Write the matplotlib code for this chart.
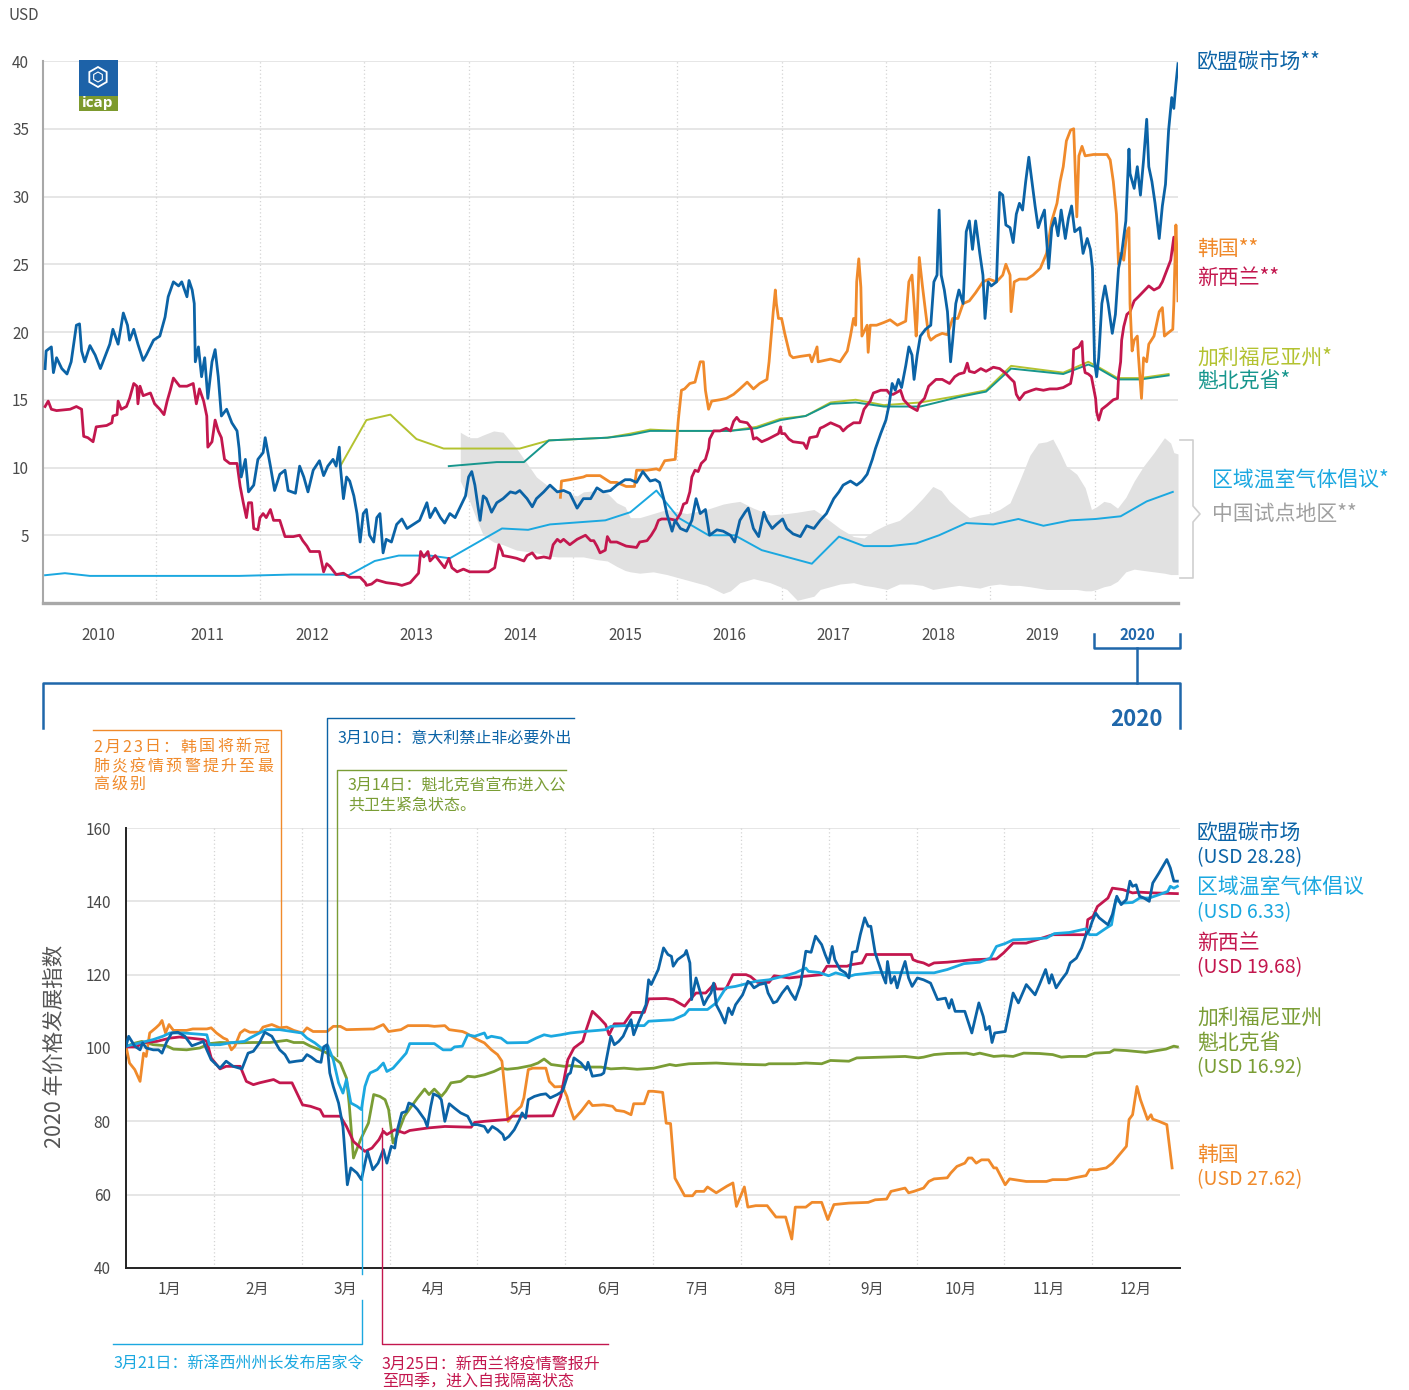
import numpy as np
import matplotlib
matplotlib.use("Agg")
import matplotlib.pyplot as plt
from matplotlib.lines import Line2D
from matplotlib.patches import Rectangle, Polygon

plt.rcParams["font.family"] = ["Noto Sans CJK SC", "DejaVu Sans"]

# ---------------- top panel data (decimal year, USD) ----------------
eu_top = [(2009.94, 17.3), (2009.95, 18.6), (2010.00, 18.9), (2010.02, 17.0), (2010.05, 18.1), (2010.10, 17.3),
          (2010.15, 16.9), (2010.19, 17.8), (2010.24, 20.5), (2010.27, 20.6), (2010.29, 18.6), (2010.32, 17.8),
          (2010.37, 19.0), (2010.42, 18.3), (2010.47, 17.3), (2010.51, 18.1), (2010.56, 19.1), (2010.59, 20.2),
          (2010.64, 19.1), (2010.69, 21.4), (2010.73, 20.5), (2010.75, 19.4), (2010.79, 20.2), (2010.83, 19.1),
          (2010.88, 17.9), (2010.91, 18.3), (2010.98, 19.4), (2011.04, 19.7), (2011.09, 21.1), (2011.12, 22.6),
          (2011.17, 23.7), (2011.22, 23.4), (2011.25, 23.7), (2011.30, 22.6), (2011.32, 23.8), (2011.35, 23.1),
          (2011.37, 22.1), (2011.38, 17.8), (2011.41, 18.9), (2011.44, 16.7), (2011.47, 18.1), (2011.50, 15.1),
          (2011.54, 17.8), (2011.57, 18.7), (2011.60, 16.7), (2011.63, 13.8), (2011.68, 14.3), (2011.73, 13.3),
          (2011.78, 12.7), (2011.80, 11.4), (2011.82, 9.3), (2011.86, 10.6), (2011.89, 8.2), (2011.94, 8.7),
          (2011.98, 10.6), (2012.03, 11.1), (2012.05, 12.2), (2012.10, 10.1), (2012.14, 8.3), (2012.19, 9.5),
          (2012.24, 9.8), (2012.27, 8.3), (2012.34, 8.1), (2012.38, 10.1), (2012.42, 9.3), (2012.46, 8.2),
          (2012.51, 9.8), (2012.57, 10.5), (2012.61, 9.4), (2012.65, 10.1), (2012.70, 10.6), (2012.73, 10.1),
          (2012.76, 11.5), (2012.77, 10.1), (2012.80, 7.7), (2012.83, 9.3), (2012.86, 9.0), (2012.90, 7.9),
          (2012.93, 6.6), (2012.96, 4.5), (2012.99, 6.6), (2013.02, 6.9), (2013.05, 5.0), (2013.09, 4.5),
          (2013.12, 6.3), (2013.15, 6.6), (2013.18, 3.7), (2013.21, 4.7), (2013.26, 4.5), (2013.31, 5.8),
          (2013.36, 6.2), (2013.41, 5.5), (2013.47, 5.8), (2013.53, 6.1), (2013.60, 7.4), (2013.63, 6.3),
          (2013.68, 7.0), (2013.73, 6.3), (2013.77, 5.9), (2013.82, 6.6), (2013.87, 6.3), (2013.92, 7.1),
          (2013.97, 7.9), (2014.00, 9.3), (2014.03, 9.7), (2014.06, 8.7), (2014.09, 7.1), (2014.11, 6.1),
          (2014.14, 7.9), (2014.17, 7.7), (2014.22, 6.7), (2014.27, 7.4), (2014.33, 7.7), (2014.40, 8.2),
          (2014.45, 8.1), (2014.49, 8.3), (2014.56, 7.7), (2014.61, 7.1), (2014.65, 7.7), (2014.72, 8.2),
          (2014.78, 8.7), (2014.85, 8.2), (2014.91, 8.3), (2014.97, 8.1), (2015.04, 7.0), (2015.10, 7.7),
          (2015.17, 7.7), (2015.23, 8.5), (2015.29, 8.2), (2015.36, 8.3), (2015.42, 8.7), (2015.50, 9.1),
          (2015.55, 9.1), (2015.61, 8.9), (2015.67, 9.7), (2015.74, 9.0), (2015.79, 9.1), (2015.83, 8.9),
          (2015.87, 7.7), (2015.90, 6.6), (2015.95, 5.3), (2015.98, 6.1), (2016.03, 5.5), (2016.09, 5.3),
          (2016.14, 6.1), (2016.18, 7.7), (2016.22, 6.6), (2016.27, 6.9), (2016.31, 5.0), (2016.38, 5.4),
          (2016.44, 5.3), (2016.51, 5.0), (2016.55, 4.5), (2016.60, 6.1), (2016.65, 6.7), (2016.68, 7.0),
          (2016.73, 5.5), (2016.78, 4.9), (2016.83, 6.7), (2016.86, 6.1), (2016.91, 5.5), (2016.95, 5.8),
          (2017.01, 6.2), (2017.05, 5.5), (2017.11, 5.1), (2017.18, 4.9), (2017.24, 5.7), (2017.31, 5.5),
          (2017.37, 6.1), (2017.43, 6.6), (2017.50, 7.7), (2017.55, 8.2), (2017.59, 8.7), (2017.66, 9.0),
          (2017.72, 8.7), (2017.77, 9.0), (2017.82, 9.5), (2017.87, 10.6), (2017.90, 11.4), (2017.95, 12.5),
          (2018.00, 13.5), (2018.03, 14.6), (2018.06, 16.2), (2018.09, 15.7), (2018.12, 16.5), (2018.15, 15.9),
          (2018.19, 17.5), (2018.22, 18.9), (2018.25, 18.3), (2018.27, 16.5), (2018.30, 18.3), (2018.33, 19.7),
          (2018.38, 20.2), (2018.43, 20.5), (2018.46, 23.7), (2018.49, 24.2), (2018.51, 29.0), (2018.53, 24.2),
          (2018.56, 23.1), (2018.59, 21.5), (2018.62, 17.8), (2018.64, 19.4), (2018.67, 22.1), (2018.70, 23.1),
          (2018.74, 22.1), (2018.77, 27.4), (2018.80, 28.2), (2018.83, 26.1), (2018.86, 28.2), (2018.90, 25.8),
          (2018.93, 24.2), (2018.95, 21.0), (2018.98, 23.7), (2019.01, 23.4), (2019.06, 23.7), (2019.09, 30.3),
          (2019.12, 30.1), (2019.15, 27.9), (2019.19, 27.7), (2019.22, 26.6), (2019.25, 28.7), (2019.28, 29.5),
          (2019.31, 29.0), (2019.34, 31.1), (2019.37, 32.9), (2019.40, 31.1), (2019.43, 29.3), (2019.46, 27.7),
          (2019.49, 28.4), (2019.52, 29.0), (2019.56, 24.7), (2019.59, 27.7), (2019.62, 28.4), (2019.65, 27.1),
          (2019.68, 29.0), (2019.72, 26.9), (2019.75, 28.4), (2019.78, 29.3), (2019.81, 27.4), (2019.86, 27.7),
          (2019.89, 25.8), (2019.93, 26.9), (2019.96, 26.1), (2019.98, 24.7), (2020.00, 17.8), (2020.02, 16.7),
          (2020.04, 18.1), (2020.07, 22.1), (2020.10, 23.4), (2020.13, 22.1), (2020.17, 19.9), (2020.20, 21.3),
          (2020.23, 24.7), (2020.26, 25.8), (2020.30, 28.2), (2020.33, 33.5), (2020.34, 31.7), (2020.38, 30.6),
          (2020.41, 32.2), (2020.44, 30.1), (2020.47, 32.7), (2020.50, 35.7), (2020.52, 32.2), (2020.55, 31.1),
          (2020.58, 29.5), (2020.62, 26.9), (2020.65, 29.3), (2020.68, 30.9), (2020.71, 34.9), (2020.74, 37.3),
          (2020.76, 36.5), (2020.78, 38.3), (2020.80, 39.8)]

kr_top = [(2014.88, 7.8), (2014.89, 9.0), (2014.97, 9.1), (2015.10, 9.3), (2015.13, 9.4), (2015.26, 9.4),
          (2015.36, 8.9), (2015.42, 8.9), (2015.51, 8.6), (2015.59, 8.6), (2015.61, 9.8), (2015.71, 9.8),
          (2015.80, 9.9), (2015.83, 9.8), (2015.88, 10.5), (2015.98, 10.6), (2016.01, 13.5), (2016.04, 15.7),
          (2016.07, 15.8), (2016.12, 16.2), (2016.17, 16.3), (2016.22, 17.8), (2016.25, 17.8), (2016.27, 15.7),
          (2016.30, 14.3), (2016.33, 14.9), (2016.41, 15.0), (2016.47, 15.1), (2016.54, 15.4), (2016.60, 15.8),
          (2016.67, 16.3), (2016.73, 15.8), (2016.79, 16.2), (2016.86, 16.5), (2016.88, 17.8), (2016.92, 21.5),
          (2016.94, 23.1), (2016.95, 22.1), (2016.97, 21.0), (2017.00, 21.0), (2017.03, 19.9), (2017.08, 18.3),
          (2017.11, 18.1), (2017.18, 18.2), (2017.27, 18.3), (2017.29, 17.8), (2017.34, 18.9), (2017.35, 17.8),
          (2017.47, 18.0), (2017.56, 17.8), (2017.63, 18.6), (2017.66, 19.7), (2017.69, 21.0), (2017.71, 20.5),
          (2017.72, 23.7), (2017.74, 25.4), (2017.76, 23.3), (2017.77, 19.7), (2017.82, 20.5), (2017.83, 18.5),
          (2017.85, 20.5), (2017.91, 20.5), (2017.98, 20.7), (2018.04, 20.9), (2018.11, 20.5), (2018.19, 20.8),
          (2018.22, 23.7), (2018.25, 24.2), (2018.27, 22.1), (2018.29, 19.7), (2018.30, 21.0), (2018.32, 25.5),
          (2018.35, 23.4), (2018.38, 21.5), (2018.41, 19.7), (2018.43, 19.4), (2018.48, 19.7), (2018.54, 19.9),
          (2018.59, 19.8), (2018.64, 21.0), (2018.69, 21.0), (2018.74, 22.1), (2018.80, 22.3), (2018.86, 22.9),
          (2018.93, 23.7), (2018.99, 23.9), (2019.06, 23.7), (2019.12, 24.2), (2019.15, 25.0), (2019.19, 24.2),
          (2019.20, 21.5), (2019.23, 23.7), (2019.28, 23.9), (2019.35, 23.9), (2019.41, 24.2), (2019.48, 24.7),
          (2019.54, 25.8), (2019.59, 28.2), (2019.64, 29.5), (2019.67, 31.1), (2019.70, 32.2), (2019.73, 34.1),
          (2019.77, 34.9), (2019.80, 35.0), (2019.81, 33.0), (2019.83, 28.5), (2019.85, 33.0), (2019.88, 33.7),
          (2019.91, 33.0), (2019.99, 33.1), (2020.12, 33.1), (2020.15, 32.7), (2020.18, 31.1), (2020.21, 28.7),
          (2020.23, 25.0), (2020.25, 25.8), (2020.28, 25.3), (2020.31, 27.4), (2020.33, 27.7), (2020.34, 22.1),
          (2020.36, 18.6), (2020.38, 19.4), (2020.41, 19.7), (2020.42, 18.3), (2020.45, 15.1), (2020.47, 18.1),
          (2020.50, 17.8), (2020.52, 19.1), (2020.57, 19.7), (2020.62, 21.5), (2020.65, 21.8), (2020.67, 19.7),
          (2020.70, 19.9), (2020.75, 20.2), (2020.76, 22.1), (2020.78, 27.9), (2020.79, 25.8), (2020.80, 22.3)]

nz_top = [(2009.94, 14.5), (2009.97, 14.9), (2010.00, 14.3), (2010.05, 14.2), (2010.18, 14.3), (2010.24, 14.5),
          (2010.29, 14.3), (2010.31, 12.3), (2010.35, 12.2), (2010.40, 11.9), (2010.43, 13.0), (2010.53, 13.1),
          (2010.58, 13.3), (2010.59, 13.8), (2010.63, 13.9), (2010.64, 14.9), (2010.67, 14.3), (2010.72, 14.5),
          (2010.75, 15.1), (2010.79, 16.2), (2010.82, 16.0), (2010.83, 14.7), (2010.85, 16.0), (2010.88, 15.3),
          (2010.95, 15.5), (2010.99, 14.7), (2011.04, 14.3), (2011.08, 13.9), (2011.11, 14.9), (2011.14, 15.7),
          (2011.17, 16.6), (2011.23, 16.0), (2011.30, 16.0), (2011.36, 16.2), (2011.39, 14.7), (2011.42, 15.8),
          (2011.46, 14.9), (2011.49, 13.8), (2011.50, 11.5), (2011.54, 11.9), (2011.57, 13.5), (2011.60, 12.7),
          (2011.63, 12.2), (2011.66, 10.6), (2011.71, 10.3), (2011.78, 10.3), (2011.81, 8.6), (2011.84, 7.4),
          (2011.87, 6.3), (2011.89, 7.4), (2011.92, 7.4), (2011.94, 5.5), (2011.98, 5.4), (2012.00, 6.3),
          (2012.03, 6.6), (2012.06, 6.3), (2012.10, 6.9), (2012.13, 6.1), (2012.19, 6.1), (2012.24, 4.9),
          (2012.32, 4.9), (2012.38, 5.0), (2012.41, 4.6), (2012.45, 4.2), (2012.48, 3.8), (2012.57, 3.8),
          (2012.61, 2.3), (2012.64, 2.9), (2012.67, 2.7), (2012.73, 2.1), (2012.80, 2.2), (2012.86, 1.9),
          (2012.96, 1.9), (2013.01, 1.5), (2013.02, 1.3), (2013.07, 1.4), (2013.12, 1.7), (2013.21, 1.5),
          (2013.31, 1.4), (2013.36, 1.3), (2013.44, 1.5), (2013.52, 2.2), (2013.54, 3.8), (2013.57, 3.4),
          (2013.61, 3.8), (2013.63, 3.1), (2013.68, 3.5), (2013.73, 3.0), (2013.77, 2.6), (2013.81, 3.3),
          (2013.84, 2.6), (2013.89, 2.3), (2013.95, 2.5), (2014.01, 2.3), (2014.11, 2.3), (2014.19, 2.3),
          (2014.25, 2.6), (2014.29, 4.3), (2014.32, 3.8), (2014.33, 3.5), (2014.40, 3.4), (2014.46, 3.3),
          (2014.53, 3.1), (2014.56, 3.5), (2014.61, 3.7), (2014.65, 3.3), (2014.72, 3.4), (2014.78, 3.3),
          (2014.81, 4.3), (2014.85, 4.7), (2014.88, 4.5), (2014.91, 4.7), (2014.97, 4.3), (2015.04, 4.7),
          (2015.12, 5.0), (2015.17, 4.6), (2015.20, 4.6), (2015.23, 4.2), (2015.26, 3.7), (2015.31, 3.9),
          (2015.33, 4.9), (2015.36, 4.5), (2015.42, 4.5), (2015.51, 4.2), (2015.61, 4.1), (2015.64, 4.5),
          (2015.71, 4.6), (2015.75, 5.0), (2015.79, 5.5), (2015.82, 6.1), (2015.85, 6.2), (2015.93, 6.2),
          (2015.99, 6.1), (2016.03, 6.6), (2016.06, 7.3), (2016.09, 7.4), (2016.12, 8.2), (2016.14, 9.3),
          (2016.17, 9.8), (2016.20, 9.7), (2016.23, 10.3), (2016.27, 10.6), (2016.30, 11.4), (2016.31, 12.1),
          (2016.35, 12.7), (2016.41, 12.7), (2016.47, 12.9), (2016.51, 12.7), (2016.54, 13.4), (2016.57, 13.7),
          (2016.60, 13.4), (2016.67, 13.3), (2016.71, 12.9), (2016.73, 12.1), (2016.76, 12.2), (2016.81, 11.9),
          (2016.87, 12.1), (2016.92, 12.3), (2016.97, 12.5), (2016.99, 13.0), (2017.00, 12.5), (2017.03, 12.5),
          (2017.07, 12.1), (2017.11, 11.9), (2017.21, 11.8), (2017.24, 11.4), (2017.27, 12.2), (2017.34, 12.3),
          (2017.37, 12.9), (2017.40, 13.0), (2017.47, 13.3), (2017.53, 13.1), (2017.56, 13.0), (2017.59, 12.7),
          (2017.63, 13.0), (2017.69, 13.3), (2017.75, 13.3), (2017.79, 14.3), (2017.82, 14.6), (2017.85, 14.9),
          (2017.88, 15.5), (2017.95, 15.7), (2018.01, 15.7), (2018.04, 15.4), (2018.07, 15.4), (2018.14, 15.7),
          (2018.17, 15.0), (2018.23, 14.5), (2018.30, 14.2), (2018.32, 14.7), (2018.37, 15.1), (2018.41, 16.0),
          (2018.48, 16.5), (2018.54, 16.5), (2018.61, 16.2), (2018.66, 16.7), (2018.70, 16.9), (2018.75, 17.0),
          (2018.78, 17.7), (2018.80, 17.1), (2018.85, 17.0), (2018.91, 17.3), (2018.96, 17.1), (2019.03, 17.4),
          (2019.09, 17.3), (2019.14, 17.0), (2019.19, 16.6), (2019.23, 16.3), (2019.25, 15.4), (2019.28, 15.0),
          (2019.33, 15.5), (2019.40, 15.7), (2019.44, 15.8), (2019.51, 15.7), (2019.57, 15.8), (2019.64, 15.8),
          (2019.70, 15.9), (2019.77, 16.2), (2019.79, 17.0), (2019.80, 18.7), (2019.85, 18.9), (2019.88, 19.3),
          (2019.89, 17.8), (2019.91, 17.0), (2019.94, 16.9), (2019.97, 16.7), (2020.01, 15.1), (2020.02, 14.1),
          (2020.04, 13.5), (2020.07, 14.3), (2020.12, 14.6), (2020.18, 15.0), (2020.22, 15.1), (2020.23, 16.7),
          (2020.25, 17.8), (2020.26, 19.4), (2020.28, 20.4), (2020.31, 21.3), (2020.34, 21.5), (2020.38, 22.3),
          (2020.42, 22.6), (2020.47, 23.0), (2020.52, 23.4), (2020.57, 23.1), (2020.62, 23.3), (2020.65, 23.7),
          (2020.70, 24.7), (2020.73, 25.3), (2020.76, 27.0), (2020.78, 25.0)]

ca_top = [(2012.77, 10.1), (2013.02, 13.5), (2013.25, 13.9), (2013.50, 12.1), (2013.76, 11.4), (2014.49, 11.4),
          (2014.77, 12.0), (2015.33, 12.2), (2015.55, 12.5), (2015.74, 12.8), (2016.00, 12.7), (2016.50, 12.7),
          (2016.76, 13.0), (2016.99, 13.6), (2017.23, 13.8), (2017.47, 14.8), (2017.71, 15.0), (2017.98, 14.6),
          (2018.33, 14.8), (2018.70, 15.3), (2018.96, 15.7), (2019.20, 17.5), (2019.70, 17.0), (2019.94, 17.8),
          (2020.04, 17.4), (2020.22, 16.6), (2020.44, 16.6), (2020.71, 16.9)]

qc_top = [(2013.81, 10.1), (2014.27, 10.4), (2014.53, 10.4), (2014.77, 12.0), (2015.33, 12.2), (2015.55, 12.4),
          (2015.74, 12.7), (2016.00, 12.7), (2016.50, 12.7), (2016.76, 12.9), (2016.99, 13.5), (2017.23, 13.8),
          (2017.47, 14.7), (2017.71, 14.8), (2017.98, 14.5), (2018.33, 14.5), (2018.70, 15.2), (2018.96, 15.6),
          (2019.20, 17.3), (2019.70, 16.9), (2019.94, 17.6), (2020.04, 17.3), (2020.22, 16.5), (2020.44, 16.5),
          (2020.71, 16.8)]

rggi_top = [(2009.94, 2.05), (2010.13, 2.2), (2010.37, 2.0), (2011.80, 2.0), (2012.30, 2.1), (2012.67, 2.1),
            (2012.85, 2.05), (2013.10, 3.1), (2013.33, 3.5), (2013.63, 3.5), (2013.82, 3.3), (2014.32, 5.5),
            (2014.57, 5.4), (2014.78, 5.8), (2015.31, 6.1), (2015.55, 6.7), (2015.80, 8.3), (2016.01, 6.3),
            (2016.30, 5.0), (2016.55, 5.0), (2016.81, 3.9), (2017.05, 3.4), (2017.29, 2.9), (2017.55, 4.9),
            (2017.79, 4.2), (2018.04, 4.2), (2018.29, 4.4), (2018.51, 5.0), (2018.77, 5.9), (2019.03, 5.8),
            (2019.27, 6.2), (2019.51, 5.7), (2019.77, 6.1), (2020.01, 6.2), (2020.25, 6.4), (2020.50, 7.5),
            (2020.75, 8.2)]

china_t = [2013.92, 2014.01, 2014.08, 2014.14, 2014.24, 2014.33, 2014.46, 2014.56, 2014.65, 2014.75, 2014.85,
           2014.94, 2015.04, 2015.10, 2015.23, 2015.33, 2015.42, 2015.50, 2015.55, 2015.64, 2015.77, 2015.90,
           2016.09, 2016.28, 2016.44, 2016.51, 2016.60, 2016.73, 2016.89, 2017.05, 2017.15, 2017.31, 2017.37,
           2017.56, 2017.69, 2017.79, 2017.88, 2018.01, 2018.13, 2018.25, 2018.35, 2018.45, 2018.53, 2018.61,
           2018.70, 2018.80, 2018.90, 2018.99, 2019.09, 2019.19, 2019.28, 2019.38, 2019.46, 2019.54, 2019.60,
           2019.67, 2019.73, 2019.83, 2019.91, 2019.97, 2020.02, 2020.09, 2020.15, 2020.22, 2020.30, 2020.38,
           2020.47, 2020.57, 2020.67, 2020.73, 2020.76, 2020.80]
china_hi = [12.6, 12.2, 12.2, 12.4, 12.7, 12.6, 11.4, 10.3, 9.3, 8.7, 8.3, 8.1, 7.9, 8.2, 8.3, 8.1, 7.4, 7.1, 6.3,
            6.3, 6.6, 6.9, 6.6, 6.9, 7.3, 7.4, 7.5, 7.0, 6.5, 6.6, 6.7, 6.9, 6.6, 5.5, 4.9, 4.8, 5.3, 5.8, 6.1,
            6.9, 7.7, 8.6, 8.3, 7.5, 6.9, 6.3, 6.5, 6.6, 6.9, 7.4, 9.0, 10.9, 11.8, 11.9, 12.1, 11.1, 10.1, 9.5,
            8.5, 6.9, 7.1, 7.5, 7.4, 7.0, 7.8, 9.0, 10.1, 11.1, 12.2, 11.8, 11.1, 11.0]
china_lo = [9.0, 7.5, 6.1, 5.0, 4.5, 4.3, 3.9, 3.8, 3.7, 3.5, 3.4, 3.4, 3.4, 3.4, 3.2, 3.1, 2.7, 2.4, 2.3, 2.2,
            2.3, 2.1, 1.7, 1.3, 0.7, 0.9, 1.5, 1.8, 1.5, 1.0, 0.2, 0.5, 1.0, 1.4, 1.5, 1.3, 1.2, 1.0, 1.4, 1.4,
            1.3, 1.0, 1.1, 1.2, 1.3, 1.2, 1.1, 1.3, 1.4, 1.3, 1.3, 1.2, 1.1, 1.0, 1.0, 1.0, 1.0, 1.0, 0.9, 0.9,
            1.0, 1.2, 1.3, 1.6, 2.3, 2.5, 2.4, 2.3, 2.2, 2.1, 2.1, 2.1]

years = list(range(2010, 2021))

# ---------------- bottom panel data (months since 1 Jan 2020, index) ----------------
eu_idx = [(0.00, 100.5), (0.03, 103.2), (0.10, 100.5), (0.16, 99.5), (0.19, 101.4), (0.23, 100.0), (0.31, 99.5),
          (0.37, 99.5), (0.41, 98.6), (0.46, 101.5), (0.52, 104.1), (0.59, 104.3), (0.67, 103.2), (0.75, 100.6),
          (0.84, 101.4), (0.88, 101.8), (0.92, 99.5), (0.97, 96.8), (1.07, 94.5), (1.14, 96.4), (1.22, 95.0),
          (1.32, 94.3), (1.39, 98.6), (1.45, 99.1), (1.52, 101.4), (1.58, 104.3), (1.66, 103.2), (1.75, 99.5),
          (1.81, 98.2), (1.86, 96.1), (1.94, 96.4), (2.01, 96.6), (2.06, 98.2), (2.11, 97.5), (2.17, 96.4),
          (2.22, 96.1), (2.25, 100.3), (2.29, 100.9), (2.32, 93.2), (2.36, 89.5), (2.42, 85.0), (2.47, 78.6),
          (2.52, 62.7), (2.56, 67.3), (2.63, 65.9), (2.68, 64.1), (2.75, 71.8), (2.81, 66.8), (2.87, 68.6),
          (2.93, 72.3), (2.97, 68.6), (3.02, 73.2), (3.06, 72.7), (3.09, 77.7), (3.14, 82.3), (3.19, 82.7),
          (3.22, 85.0), (3.27, 84.5), (3.32, 83.2), (3.40, 80.5), (3.43, 78.6), (3.47, 84.1), (3.50, 87.5),
          (3.56, 86.8), (3.59, 85.9), (3.63, 80.0), (3.68, 84.8), (3.74, 83.6), (3.81, 82.3), (3.89, 81.4),
          (3.94, 79.1), (4.00, 79.1), (4.08, 78.6), (4.12, 77.0), (4.17, 78.6), (4.23, 77.7), (4.29, 76.4),
          (4.31, 75.0), (4.36, 75.9), (4.42, 77.7), (4.48, 80.5), (4.51, 82.3), (4.55, 80.9), (4.58, 85.9),
          (4.65, 86.8), (4.72, 87.3), (4.78, 87.5), (4.83, 86.4), (4.91, 87.3), (4.97, 88.2), (5.03, 92.7),
          (5.06, 93.2), (5.10, 97.3), (5.18, 95.9), (5.24, 94.1), (5.26, 96.1), (5.31, 92.3), (5.41, 92.7),
          (5.44, 93.2), (5.48, 98.2), (5.52, 103.2), (5.56, 100.9), (5.61, 101.8), (5.66, 103.2), (5.71, 105.9),
          (5.75, 107.7), (5.78, 103.6), (5.84, 107.3), (5.92, 111.8), (5.95, 118.6), (5.98, 117.3), (6.06, 121.4),
          (6.12, 127.3), (6.17, 125.5), (6.21, 125.0), (6.23, 122.3), (6.28, 124.1), (6.36, 125.5), (6.38, 126.6),
          (6.42, 123.2), (6.44, 113.2), (6.49, 119.1), (6.53, 115.9), (6.58, 111.8), (6.62, 113.6), (6.66, 115.0),
          (6.69, 117.7), (6.72, 111.8), (6.77, 109.5), (6.82, 106.8), (6.86, 110.9), (6.90, 109.1), (6.94, 111.8),
          (7.02, 114.5), (7.08, 118.2), (7.11, 117.7), (7.15, 116.4), (7.21, 117.3), (7.28, 117.7), (7.31, 115.0),
          (7.37, 112.3), (7.41, 112.7), (7.47, 115.0), (7.53, 116.8), (7.57, 115.0), (7.62, 113.2), (7.68, 117.3),
          (7.74, 126.4), (7.80, 126.1), (7.85, 130.5), (7.92, 128.2), (7.96, 125.5), (8.00, 123.2), (8.04, 127.7),
          (8.07, 124.1), (8.13, 121.4), (8.19, 120.5), (8.23, 119.1), (8.27, 126.1), (8.32, 126.4), (8.36, 130.9),
          (8.41, 135.5), (8.45, 133.2), (8.48, 133.2), (8.53, 125.9), (8.58, 122.3), (8.62, 119.5), (8.65, 117.7),
          (8.67, 123.6), (8.71, 117.7), (8.75, 119.5), (8.78, 116.4), (8.82, 120.0), (8.87, 123.6), (8.91, 119.1),
          (8.95, 116.8), (9.01, 119.1), (9.08, 118.6), (9.16, 117.7), (9.24, 113.2), (9.33, 113.6), (9.37, 110.9),
          (9.40, 113.2), (9.44, 110.0), (9.55, 110.0), (9.63, 104.1), (9.71, 112.3), (9.76, 108.6), (9.79, 105.0),
          (9.83, 105.9), (9.86, 101.5), (9.89, 104.1), (10.01, 104.5), (10.10, 115.0), (10.16, 112.3),
          (10.25, 117.3), (10.35, 114.5), (10.40, 117.3), (10.47, 121.4), (10.51, 117.7), (10.54, 120.0),
          (10.59, 116.4), (10.65, 118.6), (10.71, 120.5), (10.75, 123.2), (10.82, 124.5), (10.88, 127.3),
          (10.93, 130.9), (10.97, 132.3), (11.00, 134.5), (11.04, 136.8), (11.08, 135.5), (11.18, 133.6),
          (11.23, 136.4), (11.28, 141.4), (11.33, 139.1), (11.39, 140.5), (11.43, 145.5), (11.46, 144.1),
          (11.50, 144.5), (11.54, 141.4), (11.59, 140.9), (11.65, 140.0), (11.69, 145.0), (11.76, 147.7),
          (11.85, 151.4), (11.89, 149.1), (11.93, 145.5), (11.97, 145.5)]

rggi_idx = [(0.00, 100.5), (0.16, 101.4), (0.31, 102.3), (0.42, 103.2), (0.50, 104.1), (0.65, 104.1), (0.92, 103.6),
            (0.95, 100.9), (1.07, 100.9), (1.18, 101.4), (1.35, 101.8), (1.41, 102.7), (1.52, 104.1), (1.60, 105.0),
            (1.75, 105.0), (1.89, 104.5), (2.00, 104.1), (2.06, 102.7), (2.15, 101.4), (2.25, 99.5), (2.30, 100.5),
            (2.36, 96.8), (2.42, 90.5), (2.47, 87.7), (2.51, 91.4), (2.56, 85.0), (2.63, 84.1), (2.68, 83.2),
            (2.72, 89.5), (2.76, 92.3), (2.78, 93.2), (2.86, 94.1), (2.93, 95.9), (2.97, 93.6), (3.04, 94.5),
            (3.11, 96.4), (3.19, 98.6), (3.23, 101.2), (3.51, 101.2), (3.61, 99.5), (3.70, 99.5), (3.74, 100.3),
            (3.83, 100.5), (3.89, 103.6), (3.97, 103.2), (4.08, 104.1), (4.11, 102.7), (4.16, 103.2), (4.27, 102.7),
            (4.34, 101.4), (4.57, 101.5), (4.67, 102.7), (4.76, 103.6), (4.84, 103.2), (4.95, 103.6), (5.06, 104.1),
            (5.22, 104.5), (5.37, 104.8), (5.46, 105.0), (5.52, 105.9), (5.67, 106.1), (5.90, 106.1), (5.95, 107.3),
            (6.23, 107.7), (6.36, 109.1), (6.41, 110.5), (6.62, 110.5), (6.72, 112.3), (6.83, 116.4), (6.94, 116.8),
            (7.09, 117.7), (7.17, 118.2), (7.32, 118.6), (7.47, 119.5), (7.55, 120.0), (7.62, 120.5), (7.74, 121.8),
            (7.77, 120.9), (7.89, 120.6), (8.00, 119.7), (8.08, 120.5), (8.23, 119.5), (8.30, 120.0), (8.53, 120.6),
            (9.20, 120.5), (9.35, 121.4), (9.54, 123.0), (9.72, 123.4), (9.84, 124.5), (9.91, 127.7), (10.01, 128.5),
            (10.10, 129.5), (10.29, 129.7), (10.48, 130.0), (10.57, 131.2), (10.74, 131.5), (10.93, 132.5),
            (10.97, 130.9), (11.05, 130.9), (11.16, 132.7), (11.22, 133.6), (11.27, 140.5), (11.33, 139.5),
            (11.46, 139.7), (11.54, 140.9), (11.65, 140.9), (11.76, 141.8), (11.86, 142.7), (11.89, 144.1),
            (11.93, 143.6), (11.97, 144.1)]

nz_idx = [(0.00, 100.3), (0.12, 100.3), (0.19, 101.5), (0.35, 101.8), (0.50, 102.7), (0.61, 103.0), (0.73, 102.7),
          (0.88, 102.3), (0.92, 101.8), (0.97, 97.3), (1.07, 94.3), (1.14, 95.0), (1.30, 95.0), (1.37, 90.9),
          (1.45, 90.0), (1.52, 90.5), (1.68, 91.4), (1.75, 90.5), (1.89, 90.5), (2.01, 84.5), (2.10, 84.1),
          (2.21, 83.2), (2.25, 81.4), (2.44, 81.4), (2.51, 78.6), (2.59, 74.5), (2.72, 71.8), (2.80, 72.7),
          (2.88, 75.0), (2.93, 77.3), (2.97, 76.4), (3.06, 77.7), (3.17, 76.8), (3.23, 77.5), (3.44, 78.2),
          (3.63, 78.6), (3.93, 78.4), (3.97, 79.7), (4.08, 80.0), (4.23, 80.3), (4.34, 80.5), (4.40, 81.4),
          (4.86, 81.5), (4.95, 86.8), (5.03, 96.8), (5.10, 100.0), (5.20, 101.8), (5.24, 105.0), (5.31, 110.0),
          (5.39, 108.2), (5.46, 106.4), (5.50, 103.6), (5.56, 106.6), (5.67, 106.6), (5.76, 109.7), (5.90, 109.7),
          (5.95, 113.4), (6.15, 113.5), (6.23, 113.2), (6.36, 111.4), (6.42, 113.2), (6.49, 115.0), (6.60, 115.0),
          (6.70, 117.5), (6.72, 116.1), (6.83, 116.1), (6.91, 120.0), (7.06, 120.0), (7.11, 119.5), (7.19, 117.9),
          (7.32, 117.9), (7.38, 119.7), (7.55, 119.1), (7.70, 119.5), (7.92, 120.0), (7.98, 122.3), (8.21, 122.3),
          (8.25, 122.7), (8.38, 123.2), (8.43, 125.5), (8.94, 125.5), (8.96, 124.1), (9.01, 123.6), (9.08, 123.2),
          (9.14, 122.5), (9.20, 123.2), (9.35, 123.4), (9.65, 124.1), (9.91, 124.3), (9.99, 125.9), (10.10, 128.6),
          (10.25, 128.6), (10.55, 130.9), (10.93, 130.9), (10.95, 135.0), (11.01, 135.9), (11.06, 138.6),
          (11.18, 140.9), (11.23, 143.6), (11.35, 143.2), (11.46, 142.3), (11.54, 142.5), (11.69, 142.3),
          (11.97, 142.1)]

caqc_idx = [(0.00, 100.3), (0.08, 101.2), (0.18, 101.8), (0.31, 100.9), (0.46, 100.6), (0.54, 99.7), (0.69, 99.5),
            (0.84, 100.0), (0.95, 101.2), (1.07, 101.5), (1.26, 101.4), (1.45, 101.5), (1.64, 101.5), (1.83, 102.1),
            (1.91, 101.5), (2.02, 101.5), (2.10, 100.5), (2.21, 99.5), (2.29, 98.6), (2.36, 97.5), (2.44, 95.9),
            (2.51, 91.8), (2.54, 85.0), (2.59, 70.0), (2.67, 75.0), (2.76, 79.5), (2.82, 87.3), (2.89, 86.8),
            (2.95, 85.9), (2.99, 83.2), (3.04, 74.1), (3.09, 76.4), (3.17, 81.4), (3.25, 84.1), (3.32, 86.4),
            (3.40, 88.8), (3.45, 87.3), (3.51, 88.8), (3.59, 86.8), (3.64, 88.2), (3.70, 90.5), (3.81, 90.9),
            (3.89, 92.3), (3.97, 92.1), (4.08, 92.7), (4.19, 93.6), (4.27, 94.5), (4.34, 94.2), (4.46, 94.5),
            (4.61, 95.2), (4.69, 95.9), (4.76, 97.0), (4.84, 95.5), (4.99, 95.0), (5.06, 95.2), (5.22, 94.8),
            (5.41, 94.8), (5.52, 94.3), (5.67, 94.5), (5.82, 94.2), (6.01, 94.5), (6.19, 95.5), (6.26, 95.2),
            (6.41, 95.7), (6.72, 95.9), (6.87, 95.7), (7.09, 95.5), (7.28, 95.4), (7.32, 95.7), (7.62, 95.7),
            (7.74, 95.9), (7.92, 95.7), (8.02, 96.6), (8.23, 96.4), (8.32, 97.3), (8.60, 97.5), (8.87, 97.7),
            (9.02, 97.3), (9.08, 97.5), (9.20, 98.2), (9.35, 98.5), (9.57, 98.6), (9.65, 98.2), (9.72, 98.6),
            (9.88, 97.7), (9.99, 97.9), (10.10, 97.7), (10.22, 98.6), (10.40, 98.5), (10.55, 98.2), (10.65, 97.5),
            (10.74, 97.7), (10.93, 97.7), (11.03, 98.6), (11.20, 98.8), (11.25, 99.5), (11.39, 99.3), (11.61, 98.8),
            (11.84, 99.7), (11.93, 100.5), (11.97, 100.3)]

kr_idx = [(0.00, 100.5), (0.04, 95.9), (0.10, 94.1), (0.16, 90.9), (0.20, 98.6), (0.23, 97.7), (0.27, 104.1),
          (0.34, 105.5), (0.38, 106.4), (0.41, 107.5), (0.45, 104.1), (0.49, 106.4), (0.54, 104.8), (0.69, 104.8),
          (0.76, 105.2), (0.92, 105.2), (0.97, 105.5), (1.03, 104.1), (1.11, 102.7), (1.15, 102.3), (1.20, 99.5),
          (1.24, 100.5), (1.30, 104.1), (1.35, 105.0), (1.41, 104.3), (1.52, 104.3), (1.56, 105.7), (1.66, 106.4),
          (1.75, 105.5), (1.83, 105.7), (1.91, 104.8), (2.01, 104.1), (2.06, 105.5), (2.13, 104.5), (2.29, 104.5),
          (2.36, 105.9), (2.44, 105.9), (2.51, 105.0), (2.82, 105.2), (2.93, 106.4), (2.99, 104.5), (3.13, 105.0),
          (3.21, 106.1), (3.44, 106.1), (3.51, 105.9), (3.63, 106.1), (3.68, 105.0), (3.83, 104.5), (3.87, 104.1),
          (4.00, 102.3), (4.08, 101.4), (4.16, 99.5), (4.23, 98.2), (4.28, 96.4), (4.31, 89.5), (4.35, 80.0),
          (4.42, 82.3), (4.50, 84.1), (4.53, 86.4), (4.58, 94.1), (4.63, 94.5), (4.78, 94.5), (4.82, 90.9),
          (4.88, 89.4), (4.97, 89.5), (5.02, 86.8), (5.05, 84.1), (5.10, 80.6), (5.18, 82.7), (5.27, 85.5),
          (5.31, 84.3), (5.44, 84.5), (5.54, 84.1), (5.58, 83.0), (5.67, 82.7), (5.75, 81.8), (5.78, 84.8),
          (5.90, 84.8), (5.95, 88.2), (6.00, 88.2), (6.11, 87.9), (6.15, 79.5), (6.20, 79.4), (6.25, 64.5),
          (6.30, 62.3), (6.36, 59.7), (6.45, 59.7), (6.49, 60.9), (6.58, 60.9), (6.62, 62.1), (6.72, 60.5),
          (6.84, 62.3), (6.91, 63.2), (6.95, 56.8), (7.04, 62.1), (7.08, 56.6), (7.17, 57.0), (7.30, 57.0),
          (7.40, 53.9), (7.51, 53.9), (7.58, 47.9), (7.62, 56.6), (7.74, 56.6), (7.81, 57.9), (7.92, 57.9),
          (7.99, 53.2), (8.06, 57.3), (8.23, 57.7), (8.45, 57.9), (8.53, 58.6), (8.66, 58.8), (8.71, 60.9),
          (8.87, 61.8), (8.91, 60.5), (8.97, 60.9), (9.08, 61.8), (9.14, 63.6), (9.20, 64.3), (9.35, 64.6),
          (9.39, 65.9), (9.46, 67.7), (9.55, 68.6), (9.59, 70.0), (9.63, 70.0), (9.68, 68.6), (9.74, 69.5),
          (9.82, 69.5), (9.88, 67.3), (9.91, 67.3), (10.01, 62.7), (10.06, 64.3), (10.25, 63.6), (10.48, 63.6),
          (10.55, 64.1), (10.71, 64.1), (10.78, 64.5), (10.93, 65.2), (10.97, 66.8), (11.05, 66.8), (11.16, 67.3),
          (11.23, 68.6), (11.31, 70.9), (11.39, 73.2), (11.42, 80.5), (11.46, 81.8), (11.51, 89.5), (11.55, 85.9),
          (11.63, 80.5), (11.67, 81.8), (11.69, 80.6), (11.76, 80.0), (11.85, 79.1), (11.88, 73.2), (11.91, 67.3)]

months = ["1月", "2月", "3月", "4月", "5月", "6月", "7月", "8月", "9月", "10月", "11月", "12月"]

# ---------------- colours ----------------
C_EU = "#0b63a6"
C_KR = "#f08a2b"
C_NZ = "#c3174e"
C_CA = "#b3c230"
C_QC = "#17968d"
C_RGGI = "#1ba8e0"
C_CN = "#e1e1e1"
C_GREEN = "#7a9d35"
C_TXT = "#4a4a4a"
C_BR = "#1f67aa"

W, H = 1409, 1390
fig = plt.figure(figsize=(W / 100, H / 100), dpi=100)


def fx(x, y):
    return (x / W, 1 - y / H)


def fline(xs, ys, **kw):
    fig.add_artist(Line2D([x / W for x in xs], [1 - y / H for y in ys],
                          transform=fig.transFigure, **kw))


def ftext(x, y, s, **kw):
    return fig.text(x / W, 1 - y / H, s, **kw)


def xy(pairs):
    a = np.array(pairs)
    return a[:, 0], a[:, 1]


# ================= top panel =================
ax1 = fig.add_axes([43 / W, 1 - 603 / H, (1178 - 43) / W, (603 - 61) / H])
ax1.set_xlim(2009.92, 2020.80)
ax1.set_ylim(0, 40)
ax1.set_yticks(range(5, 45, 5))
ax1.tick_params(axis="y", length=0, pad=10, labelsize=11, labelcolor=C_TXT)
ax1.set_xticks([2010.45] + [y + 0.5 for y in years[1:-1]] + [2020.41])
ax1.set_xticklabels([str(y) for y in years])
ax1.tick_params(axis="x", length=0, pad=17, labelsize=11, labelcolor=C_TXT)
lab = ax1.get_xticklabels()[-1]
lab.set_color(C_BR)
lab.set_fontweight("bold")
for v in range(5, 45, 5):
    ax1.axhline(v, color="#e2e2e2", lw=1.2, zorder=0)
for y in years[1:]:
    ax1.axvline(y, color="#d4d4d4", lw=0.9, ls=(0, (1, 2)), zorder=0)
for s in ["top", "right"]:
    ax1.spines[s].set_visible(False)
ax1.spines["left"].set_color("#a8a8a8")
ax1.spines["left"].set_linewidth(1.5)
ax1.spines["bottom"].set_color("#a8a8a8")
ax1.spines["bottom"].set_linewidth(2.4)

ax1.fill_between(china_t, china_lo, china_hi, color=C_CN, lw=0, zorder=1)
for pairs, col, lw, z in [(rggi_top, C_RGGI, 1.4, 2), (ca_top, C_CA, 1.4, 3), (qc_top, C_QC, 1.4, 3),
                          (nz_top, C_NZ, 2.0, 4), (kr_top, C_KR, 2.0, 5), (eu_top, C_EU, 2.0, 6)]:
    t, v = xy(pairs)
    ax1.plot(t, v, color=col, lw=lw, zorder=z, solid_joinstyle="round")

# right-hand labels (top)
kw = dict(fontsize=15, va="center", ha="left")
ftext(1197, 62, "欧盟碳市场**", color=C_EU, **kw)
ftext(1197, 249, "韩国**", color=C_KR, **kw)
ftext(1197, 278, "新西兰**", color=C_NZ, **kw)
ftext(1197, 358, "加利福尼亚州*", color=C_CA, **kw)
ftext(1197, 382, "魁北克省*", color=C_QC, **kw)
ftext(1212, 481, "区域温室气体倡议*", color=C_RGGI, **kw)
ftext(1212, 514, "中国试点地区**", color="#a0a0a0", **kw)
fline([1180, 1193, 1193, 1200, 1193, 1193, 1180], [440, 440, 506, 514, 522, 578, 578], color="#cfcfcf", lw=1.2)

ftext(8, 16, "USD", fontsize=11, color=C_TXT, va="center", ha="left")

# icap logo
fig.add_artist(Rectangle(fx(79, 96), 39 / W, 36 / H, transform=fig.transFigure, color="#1d62a8", lw=0))
fig.add_artist(Rectangle(fx(79, 111), 39 / W, 15 / H, transform=fig.transFigure, color="#7d9a2e", lw=0))
ang = np.linspace(0, 2 * np.pi, 7)[:-1] + np.pi / 6
hx = [fx(98 + 10 * np.cos(a), 77 + 10 * np.sin(a)) for a in ang]
fig.add_artist(Polygon(hx, closed=True, transform=fig.transFigure, fill=False, ec="white", lw=1.3))
fig.add_artist(Polygon([fx(98 + 5 * np.cos(a), 77 + 5 * np.sin(a)) for a in ang], closed=True,
                       transform=fig.transFigure, fill=False, ec="white", lw=0.8))
ftext(98, 103, "icap", color="white", fontsize=11, fontweight="bold", ha="center", va="center",
      family=["Open Sans", "DejaVu Sans"])

# 2020 brackets
fline([1094, 1094, 1180, 1180], [634, 648, 648, 634], color=C_BR, lw=1.8)
fline([1137, 1137], [648, 683], color=C_BR, lw=1.8)
fline([43, 43, 1180, 1180], [728, 683, 683, 728], color=C_BR, lw=1.8)
ftext(1163, 719, "2020", color=C_BR, fontsize=16, fontweight="bold", ha="right", va="center")

# ================= bottom panel =================
ax2 = fig.add_axes([126 / W, 1 - 1268 / H, (1180 - 126) / W, (1268 - 828) / H])
ax2.set_xlim(0, 12)
ax2.set_ylim(40, 160)
ax2.set_yticks(range(40, 161, 20))
ax2.tick_params(axis="y", length=0, pad=11, labelsize=11, labelcolor=C_TXT)
ax2.set_xticks([i + 0.5 for i in range(12)])
ax2.set_xticklabels(months)
ax2.tick_params(axis="x", length=0, pad=9, labelsize=11, labelcolor=C_TXT)
for v in range(60, 161, 20):
    ax2.axhline(v, color="#e2e2e2", lw=1.2, zorder=0)
for m in range(1, 12):
    ax2.axvline(m, color="#d4d4d4", lw=0.9, ls=(0, (1, 2)), zorder=0)
for s in ["top", "right"]:
    ax2.spines[s].set_visible(False)
for s in ["left", "bottom"]:
    ax2.spines[s].set_color("#222222")
    ax2.spines[s].set_linewidth(1.4)

for pairs, col, z in [(caqc_idx, C_GREEN, 2), (kr_idx, C_KR, 3), (nz_idx, C_NZ, 4),
                      (rggi_idx, C_RGGI, 5), (eu_idx, C_EU, 6)]:
    m, v = xy(pairs)
    ax2.plot(m, v, color=col, lw=2.0, zorder=z, solid_joinstyle="round")

ftext(55, 1046, "2020 年价格发展指数", rotation=90, fontsize=15.5, color="#555555", ha="center", va="center")

kw = dict(fontsize=15, va="center", ha="left")
kw2 = dict(fontsize=14, va="center", ha="left")
ftext(1197, 833, "欧盟碳市场", color=C_EU, **kw)
ftext(1197, 858, "(USD 28.28)", color=C_EU, **kw2)
ftext(1197, 888, "区域温室气体倡议", color=C_RGGI, **kw)
ftext(1197, 913, "(USD 6.33)", color=C_RGGI, **kw2)
ftext(1197, 943, "新西兰", color=C_NZ, **kw)
ftext(1197, 968, "(USD 19.68)", color=C_NZ, **kw2)
ftext(1197, 1018, "加利福尼亚州", color=C_GREEN, **kw)
ftext(1197, 1044, "魁北克省", color=C_GREEN, **kw)
ftext(1197, 1068, "(USD 16.92)", color=C_GREEN, **kw2)
ftext(1197, 1155, "韩国", color=C_KR, **kw)
ftext(1197, 1180, "(USD 27.62)", color=C_KR, **kw2)

# event annotations
renderer = fig.canvas.get_renderer()


def spaced(x, y, s, gap, **kw):
    for ch in s:
        t = ftext(x, y, ch, ha="left", va="center", **kw)
        x += t.get_window_extent(renderer=renderer).width + gap


ann = dict(fontsize=11.5)
fline([93, 281, 281], [730, 730, 1027], color=C_KR, lw=1.0)
spaced(93, 747, "2月23日：韩国将新冠", 2.2, color=C_KR, **ann)
spaced(93, 766, "肺炎疫情预警提升至最", 2.2, color=C_KR, **ann)
spaced(93, 784, "高级别", 2.2, color=C_KR, **ann)

fline([574, 327, 327], [718, 718, 1045], color=C_EU, lw=1.0)
ftext(338, 738, "3月10日：意大利禁止非必要外出", color=C_EU, va="center", **ann)

fline([566, 337, 337], [770, 770, 1056], color=C_GREEN, lw=1.0)
ftext(348, 786, "3月14日：魁北克省宣布进入公", color=C_GREEN, va="center", **ann)
ftext(348, 805, "共卫生紧急状态。", color=C_GREEN, va="center", **ann)

fline([362, 362], [1100, 1274], color=C_RGGI, lw=1.0)
fline([362, 362, 113], [1300, 1344, 1344], color=C_RGGI, lw=1.0)
ftext(113, 1364, "3月21日：新泽西州州长发布居家令", color=C_RGGI, va="center", **ann)

fline([382, 382, 608], [1128, 1344, 1344], color=C_NZ, lw=1.0)
ftext(382, 1364, "3月25日：新西兰将疫情警报升", color=C_NZ, va="center", **ann)
ftext(382, 1382, "至四季，进入自我隔离状态", color=C_NZ, va="center", **ann)

fig.savefig("out.png", dpi=100)
